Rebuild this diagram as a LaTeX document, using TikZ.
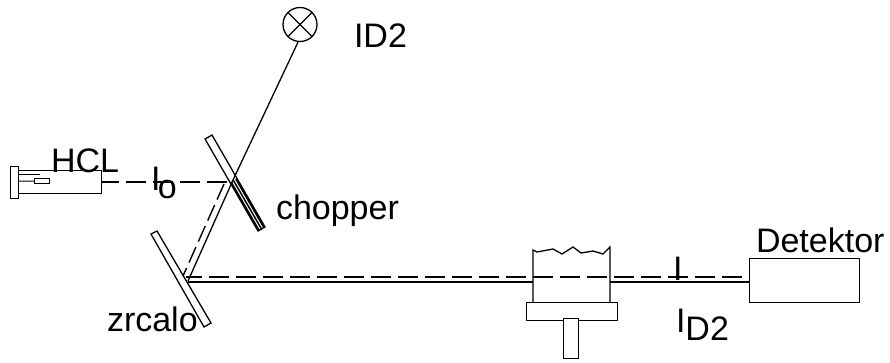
\documentclass[tikz,border=0pt]{standalone}
\usepackage{fontspec}
\setmainfont{Liberation Sans}
\tikzset{
 ln/.style={line width=1.3pt,black},
 lbl/.style={anchor=base west,inner sep=0pt,outer sep=0pt,font=\fontsize{34}{38}\selectfont},
 dashbeam/.style={line width=2.4pt,dash pattern=on 20pt off 7pt},
 dashthin/.style={line width=1.4pt,dash pattern=on 17pt off 6pt}
}
\begin{document}
\begin{tikzpicture}[x=1pt,y=-1pt,line join=miter]
\useasboundingbox (0,0) rectangle (890,362);
% coordinates
\coordinate (lampout) at (101,182);
\coordinate (chopD) at (227,182);
\coordinate (chopE) at (224,184);
\coordinate (chopS) at (233,180);
\coordinate (mirD) at (183,276);
\coordinate (mirS) at (188,281);
\coordinate (h1) at (186,277);
\coordinate (h2) at (746,277);
\coordinate (s1) at (188,282);
\coordinate (cellL) at (533,282);
\coordinate (cellR) at (610,282);
\coordinate (detL) at (749,282);
% lamp
\node[draw,ln,minimum width=83pt,minimum height=23pt,inner sep=0pt,anchor=north west] (body) at (18,170) {};
\node[draw,ln,minimum width=8pt,minimum height=32pt,inner sep=0pt,anchor=north west] (cap) at (10,166) {};
\node[draw,ln,minimum width=15pt,minimum height=5pt,inner sep=0pt,anchor=north west] (cath) at (34,178) {};
\coordinate (an) at (40,174);
\draw[line width=1pt] (18,174) -- (an);
\draw[line width=1pt] (18,181) -- (cath.west);
% mirrors
\draw[ln] (205,139) -- (212,135) -- (265,227) -- (258,231) -- cycle;
\draw[line width=1.8pt] (264,227.5) -- (236,179);
\draw[line width=1.5pt] (261.5,229) -- (233.5,180.5);
\draw[line width=1.8pt] (259,230.5) -- (231,182);
\draw[ln,fill=white] (151,234) -- (157,231) -- (211,323) -- (204,327) -- cycle;
% lamp D2
\node[draw,ln,circle,minimum size=34pt,inner sep=0pt] (d2) at (300,24.5) {};
\draw[ln] (d2.north west) -- (d2.south east);
\draw[ln] (d2.north east) -- (d2.south west);
\draw[ln] (d2.south) ++(-2,0) -- (chopS);
% beams
\draw[dashbeam,dash phase=2pt] (lampout) -- (chopD);
\draw[dashthin] (chopE) -- (mirD);
\draw[ln] (chopS) -- (mirS);
\draw[dashbeam,dash phase=4pt] (h1) -- (h2);
\draw[line width=1.2pt] (s1) -- (cellL);
\draw[line width=1.2pt] (cellR) -- (detL);
% cell
\draw[ln] (533,302) -- (533,250) -- (537,252) -- (553,249) -- (562,254) -- (573,247) -- (581,253) -- (593,251) -- (603,254) -- (610,247) -- (610,302);
\node[draw,ln,minimum width=91pt,minimum height=18pt,inner sep=0pt,anchor=north west] (base) at (526,302) {};
\node[draw,ln,fill=white,minimum width=15pt,minimum height=40pt,inner sep=0pt,anchor=north west] (stem) at (563,318) {};
% detector
\node[draw,ln,minimum width=110pt,minimum height=44pt,inner sep=0pt,anchor=north west] (det) at (749,258) {};
% labels
\node[lbl] (lid) at (354,47) {ID2};
\node[lbl] (lhcl) at (51,172) {HCL};
\node[lbl] (lio) at (151,190) {I\kern-2.5pt\raisebox{-8pt}{o}};
\node[lbl] (lch) at (276,219) {chopper};
\node[lbl] (lzr) at (107,331) {zrcalo};
\node[lbl] (ldet) at (756,252) {Detektor};
\node[lbl] (li) at (673,280) {I};
\node[lbl] (lid2) at (676,332) {I\raisebox{-8pt}{D2}};
\end{tikzpicture}
\end{document}
